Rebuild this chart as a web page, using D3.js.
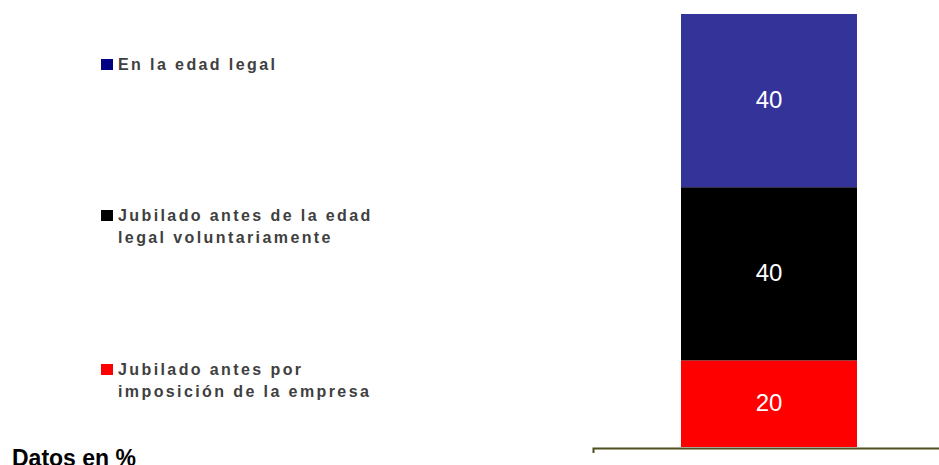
<!DOCTYPE html>
<html>
<head>
<meta charset="utf-8">
<script src="https://cdn.jsdelivr.net/npm/d3@7"></script>
<style>
  body { margin: 0; background: #fff; }
  svg { display: block; }
</style>
</head>
<body>
<script>
// data
var categories = [""];
var seriesNames = [
    ["Jubilado antes por", "imposición de la empresa"],
    ["Jubilado antes de la edad", "legal voluntariamente"],
    ["En la edad legal"]
];
var seriesValues = [20, 40, 40];
var yTicks = [0, 100];

// styling / layout
var barColors = ["#ff0000", "#000000", "#333399"];
var swatchColors = ["#ff0000", "#000000", "#000080"];
var legendBaseline = [375, 221, 70];

var width = 939, height = 465;

var svg = d3.select("body").append("svg")
    .attr("width", width)
    .attr("height", height);

var x = d3.scaleBand()
    .domain(categories)
    .range([593, 945])
    .paddingInner(0)
    .paddingOuter(0.5);

var y = d3.scaleLinear()
    .domain(d3.extent(yTicks))
    .range([447, 14]);

// stack the segments
var stacked = [];
var run = 0;
seriesValues.forEach(function (v, i) {
    stacked.push({ i: i, v: v, y0: run, y1: run + v });
    run += v;
});

svg.selectAll("rect.seg")
    .data(stacked)
    .enter()
    .append("rect")
    .attr("class", "seg")
    .attr("x", x(categories[0]))
    .attr("width", x.bandwidth())
    .attr("y", function (d) { return y(d.y1); })
    .attr("height", function (d) { return y(d.y0) - y(d.y1); })
    .attr("fill", function (d) { return barColors[d.i]; });

svg.selectAll("text.val")
    .data(stacked)
    .enter()
    .append("text")
    .attr("class", "val")
    .attr("x", x(categories[0]) + x.bandwidth() / 2)
    .attr("y", function (d) { return (y(d.y0) + y(d.y1)) / 2 + 7; })
    .attr("text-anchor", "middle")
    .attr("font-family", "Liberation Sans, Arial, sans-serif")
    .attr("font-size", 24)
    .attr("fill", "#ffffff")
    .text(function (d) { return d.v; });

// category axis
var axis = svg.append("g")
    .attr("transform", "translate(0,448)")
    .call(d3.axisBottom(x).tickSizeInner(0).tickSizeOuter(5).tickFormat(""));
axis.select(".domain").attr("stroke", "#4f4f1f").attr("stroke-width", 2);

// legend
var legend = svg.selectAll("g.leg")
    .data(seriesNames)
    .enter()
    .append("g")
    .attr("class", "leg");

legend.append("rect")
    .attr("x", 101)
    .attr("y", function (d, i) { return legendBaseline[i] - 11; })
    .attr("width", 12)
    .attr("height", 11)
    .attr("fill", function (d, i) { return swatchColors[i]; });

legend.append("text")
    .attr("font-family", "Liberation Sans, Arial, sans-serif")
    .attr("font-size", 16)
    .attr("font-weight", "bold")
    .attr("letter-spacing", 2.4)
    .attr("fill", "#404040")
    .each(function (d, i) {
        var t = d3.select(this);
        d.forEach(function (line, k) {
            t.append("tspan")
                .attr("x", 118)
                .attr("y", legendBaseline[i] + k * 22)
                .text(line);
        });
    });

svg.append("text")
    .attr("x", 12)
    .attr("y", 466)
    .attr("font-family", "Liberation Sans, Arial, sans-serif")
    .attr("font-size", 23)
    .attr("font-weight", "bold")
    .attr("fill", "#000")
    .text("Datos en %");
</script>
</body>
</html>
